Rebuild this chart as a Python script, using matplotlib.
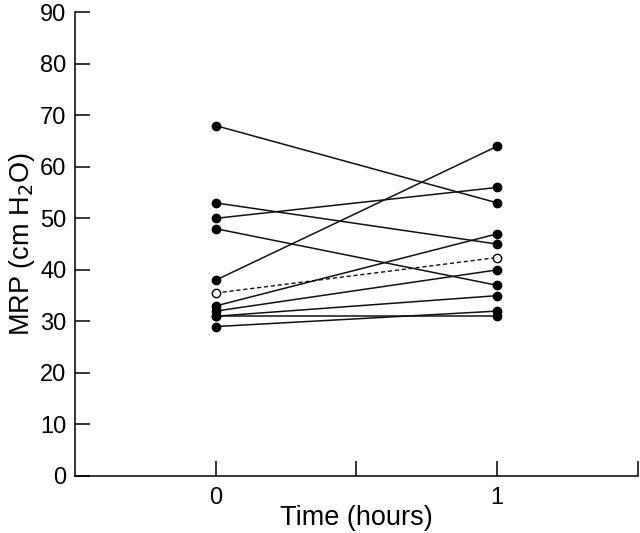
import matplotlib.pyplot as plt

# MRP at time 0 and 1 h for each patient (paired)
before = [68, 53, 50, 48, 38, 33, 32, 31, 31, 29]
after = [53, 45, 56, 37, 64, 47, 40, 35, 31, 32]
mean_line = [35.5, 42.4]
times = [0, 1]

plt.rcParams['font.family'] = ['Liberation Sans', 'DejaVu Sans']

fig = plt.figure(figsize=(6.4, 5.33), dpi=100)
ax = fig.add_axes([0.117, 0.107, 0.88, 0.87])

for b, a in zip(before, after):
    ax.plot(times, [b, a], color='#111111', lw=1.1, marker='o', ms=6,
            markerfacecolor='black', markeredgecolor='black')

ax.plot(times, mean_line, color='#111111', lw=1.0, ls=(0, (3, 2)), marker='o',
        ms=6, markerfacecolor='white', markeredgecolor='black', zorder=3)

ax.set_xlim(-0.5, 1.5)
ax.set_ylim(0, 90)
ax.set_xticks([0, 0.5, 1, 1.5])
ax.set_xticklabels(['0', '', '1', ''])
ax.set_yticks(range(0, 91, 10))

for s in ['top', 'right']:
    ax.spines[s].set_visible(False)
for s in ['left', 'bottom']:
    ax.spines[s].set_linewidth(1.1)

ax.tick_params(direction='in', length=11, width=1.1, labelsize=17, pad=6)
ax.tick_params(axis='x', pad=8)

ax.set_xlabel('Time (hours)', fontsize=19.5, labelpad=-3)
ax.set_ylabel('MRP (cm H$_2$O)', fontsize=19.5, labelpad=2)

fig.savefig('out.png', dpi=100)
